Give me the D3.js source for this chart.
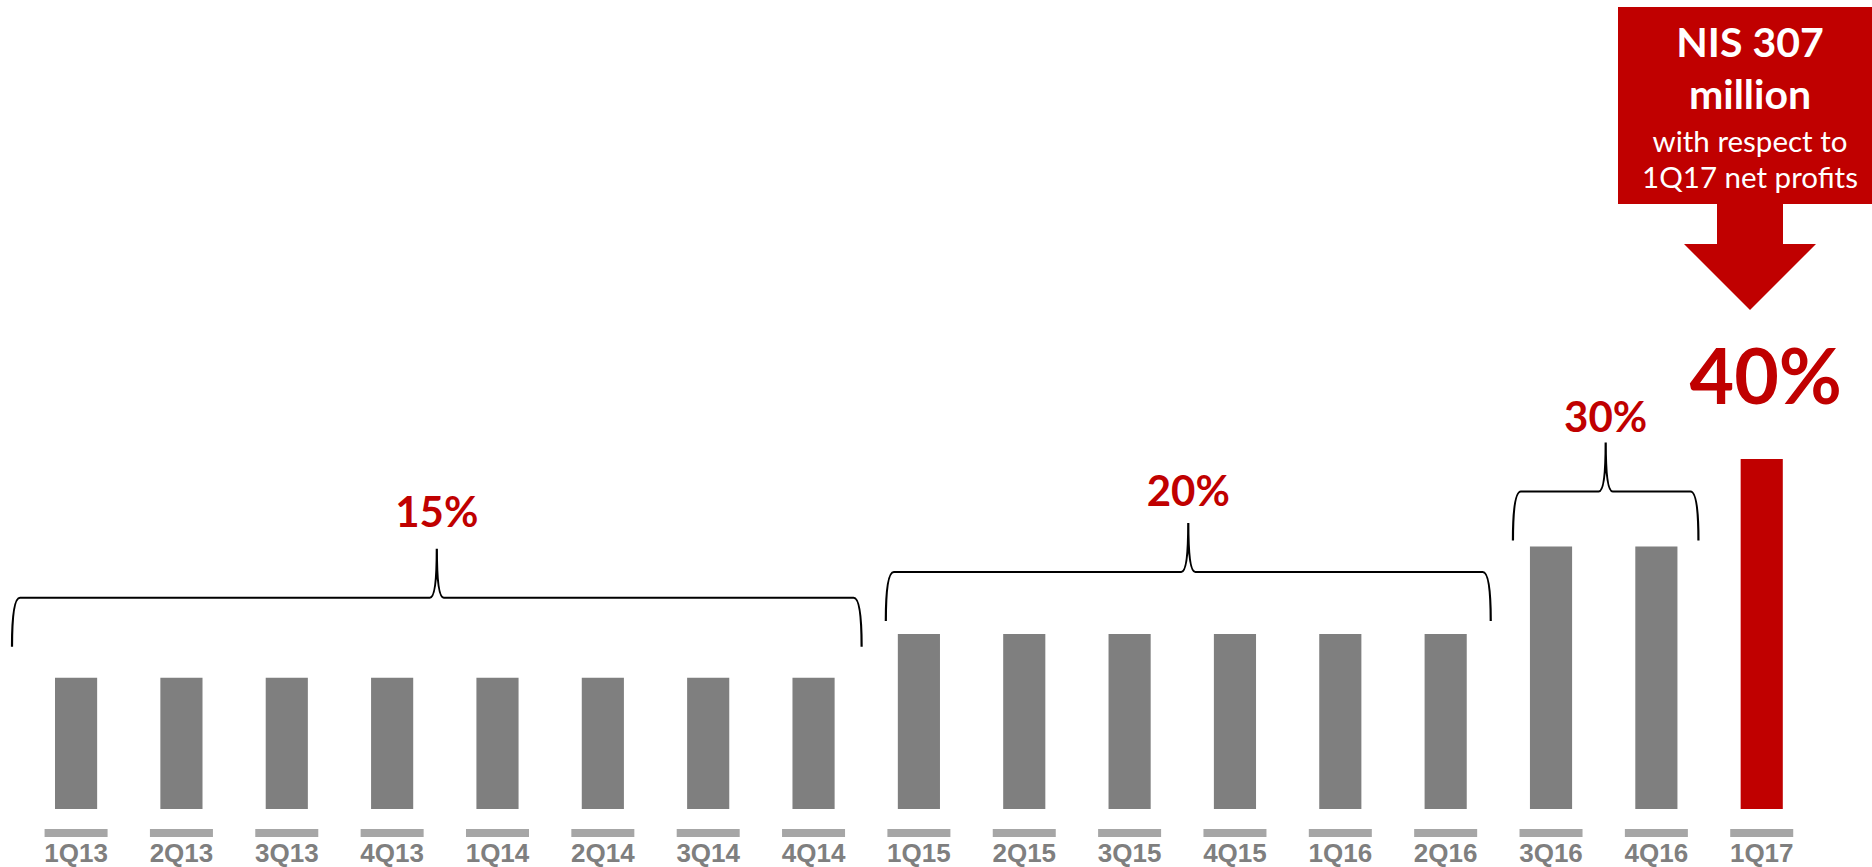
<!DOCTYPE html>
<html>
<head>
<meta charset="utf-8">
<script src="https://cdn.jsdelivr.net/npm/d3@7"></script>
<style>
  html, body { margin: 0; padding: 0; background: #fff; overflow: hidden; }
  svg { display: block; }
</style>
</head>
<body>
<svg id="chart" width="1872" height="867"></svg>
<script>
// quarters and dividend payout ratio (%)
const quarters = ['1Q13', '2Q13', '3Q13', '4Q13', '1Q14', '2Q14', '3Q14', '4Q14',
  '1Q15', '2Q15', '3Q15', '4Q15', '1Q16', '2Q16', '3Q16', '4Q16', '1Q17'];
const payout = [15, 15, 15, 15, 15, 15, 15, 15, 20, 20, 20, 20, 20, 20, 30, 30, 40];
const highlight = '1Q17';

// policy periods shown with braces
const periods = [
  { label: '15%', from: '1Q13', to: '4Q14' },
  { label: '20%', from: '1Q15', to: '2Q16' },
  { label: '30%', from: '3Q16', to: '4Q16' },
];

const calloutLines = ['NIS 307', 'million', 'with respect to', '1Q17 net profits'];

// brace layout (pixels): extra reach left/right, lift above bars, label lift above tip
const braceLayout = [
  { padL: 43, padR: 27, lift: 31, labelLift: 22 },
  { padL: 12, padR: 24, lift: 13, labelLift: 17 },
  { padL: 17, padR: 21, lift: 6, labelLift: 11 },
];

const RED = '#c00000';
const GRAY = '#7f7f7f';

const svg = d3.select('#chart');

const x = d3.scaleBand()
  .domain(quarters)
  .range([23.4, 1814.4])
  .paddingInner(0.6)
  .paddingOuter(0.3);

const y = d3.scaleLinear().domain([0, 40]).range([809, 459]);

const rows = quarters.map((q, i) => ({ q, v: payout[i] }));

// bars
svg.append('g')
  .selectAll('rect')
  .data(rows)
  .join('rect')
  .attr('x', (d) => x(d.q))
  .attr('y', (d) => y(d.v))
  .attr('width', x.bandwidth())
  .attr('height', (d) => y(0) - y(d.v))
  .attr('fill', (d) => (d.q === highlight ? RED : GRAY));

// category labels with the little grey bar on top
const lab = svg.append('g')
  .selectAll('g')
  .data(quarters)
  .join('g')
  .attr('transform', (d) => `translate(${x(d) + x.bandwidth() / 2},0)`);

lab.append('rect')
  .attr('x', -31.5)
  .attr('y', 829)
  .attr('width', 63)
  .attr('height', 8)
  .attr('fill', '#a6a6a6');

lab.append('text')
  .attr('y', 861.5)
  .attr('text-anchor', 'middle')
  .attr('font-family', '"Liberation Sans", Arial, sans-serif')
  .attr('font-weight', 'bold')
  .attr('font-size', 26)
  .attr('fill', GRAY)
  .text((d) => d);

// braces
function bracePath(x0, x1, yb, yh, yt) {
  const xm = (x0 + x1) / 2;
  const r = 8;
  const c = 7;
  return [
    `M${x0},${yb}`,
    `Q${x0},${yh} ${x0 + r},${yh}`,
    `L${xm - c},${yh}`,
    `Q${xm},${yh} ${xm},${yt}`,
    `Q${xm},${yh} ${xm + c},${yh}`,
    `L${x1 - r},${yh}`,
    `Q${x1},${yh} ${x1},${yb}`,
  ].join(' ');
}

const braces = svg.append('g');
periods.forEach((p, i) => {
  const lay = braceLayout[i];
  const i0 = quarters.indexOf(p.from);
  const top = y(payout[i0]);
  const x0 = x(p.from) - lay.padL;
  const x1 = x(p.to) + x.bandwidth() + lay.padR;
  const yb = top - lay.lift;
  const yh = yb - 49;
  const yt = yh - 49;
  braces.append('path')
    .attr('d', bracePath(x0, x1, yb, yh, yt))
    .attr('fill', 'none')
    .attr('stroke', '#000')
    .attr('stroke-width', 2.2);
  braces.append('text')
    .attr('x', (x0 + x1) / 2)
    .attr('y', yt - lay.labelLift)
    .attr('text-anchor', 'middle')
    .attr('font-family', 'Lato, sans-serif')
    .attr('font-weight', 'bold')
    .attr('font-size', 42)
    .attr('fill', RED)
    .text(p.label);
});

// highlighted quarter label
const hv = payout[quarters.indexOf(highlight)];
svg.append('text')
  .attr('x', x(highlight) + x.bandwidth() / 2 + 4)
  .attr('y', y(hv) - 55)
  .attr('text-anchor', 'middle')
  .attr('font-family', 'Lato, sans-serif')
  .attr('font-weight', 'bold')
  .attr('font-size', 77)
  .attr('fill', RED)
  .text(`${hv}%`);

// callout box with down arrow
const cx = 1750;
const callout = svg.append('g');
callout.append('rect')
  .attr('x', 1618).attr('y', 7)
  .attr('width', 270).attr('height', 197)
  .attr('fill', RED);
callout.append('path')
  .attr('d', `M${cx - 33},203 L${cx + 33},203 L${cx + 33},244 L${cx + 66},244 L${cx},310 L${cx - 66},244 L${cx - 33},244 Z`)
  .attr('fill', RED);

const lineStyle = [
  { y: 57, size: 41, weight: 'bold' },
  { y: 109, size: 41, weight: 'bold' },
  { y: 152, size: 29.5, weight: 'normal' },
  { y: 188, size: 29.5, weight: 'normal' },
];
callout.selectAll('text')
  .data(calloutLines)
  .join('text')
  .attr('x', cx)
  .attr('y', (d, i) => lineStyle[i].y)
  .attr('text-anchor', 'middle')
  .attr('font-family', 'Lato, sans-serif')
  .attr('font-weight', (d, i) => lineStyle[i].weight)
  .attr('font-size', (d, i) => lineStyle[i].size)
  .attr('fill', '#fff')
  .text((d) => d);
</script>
</body>
</html>
